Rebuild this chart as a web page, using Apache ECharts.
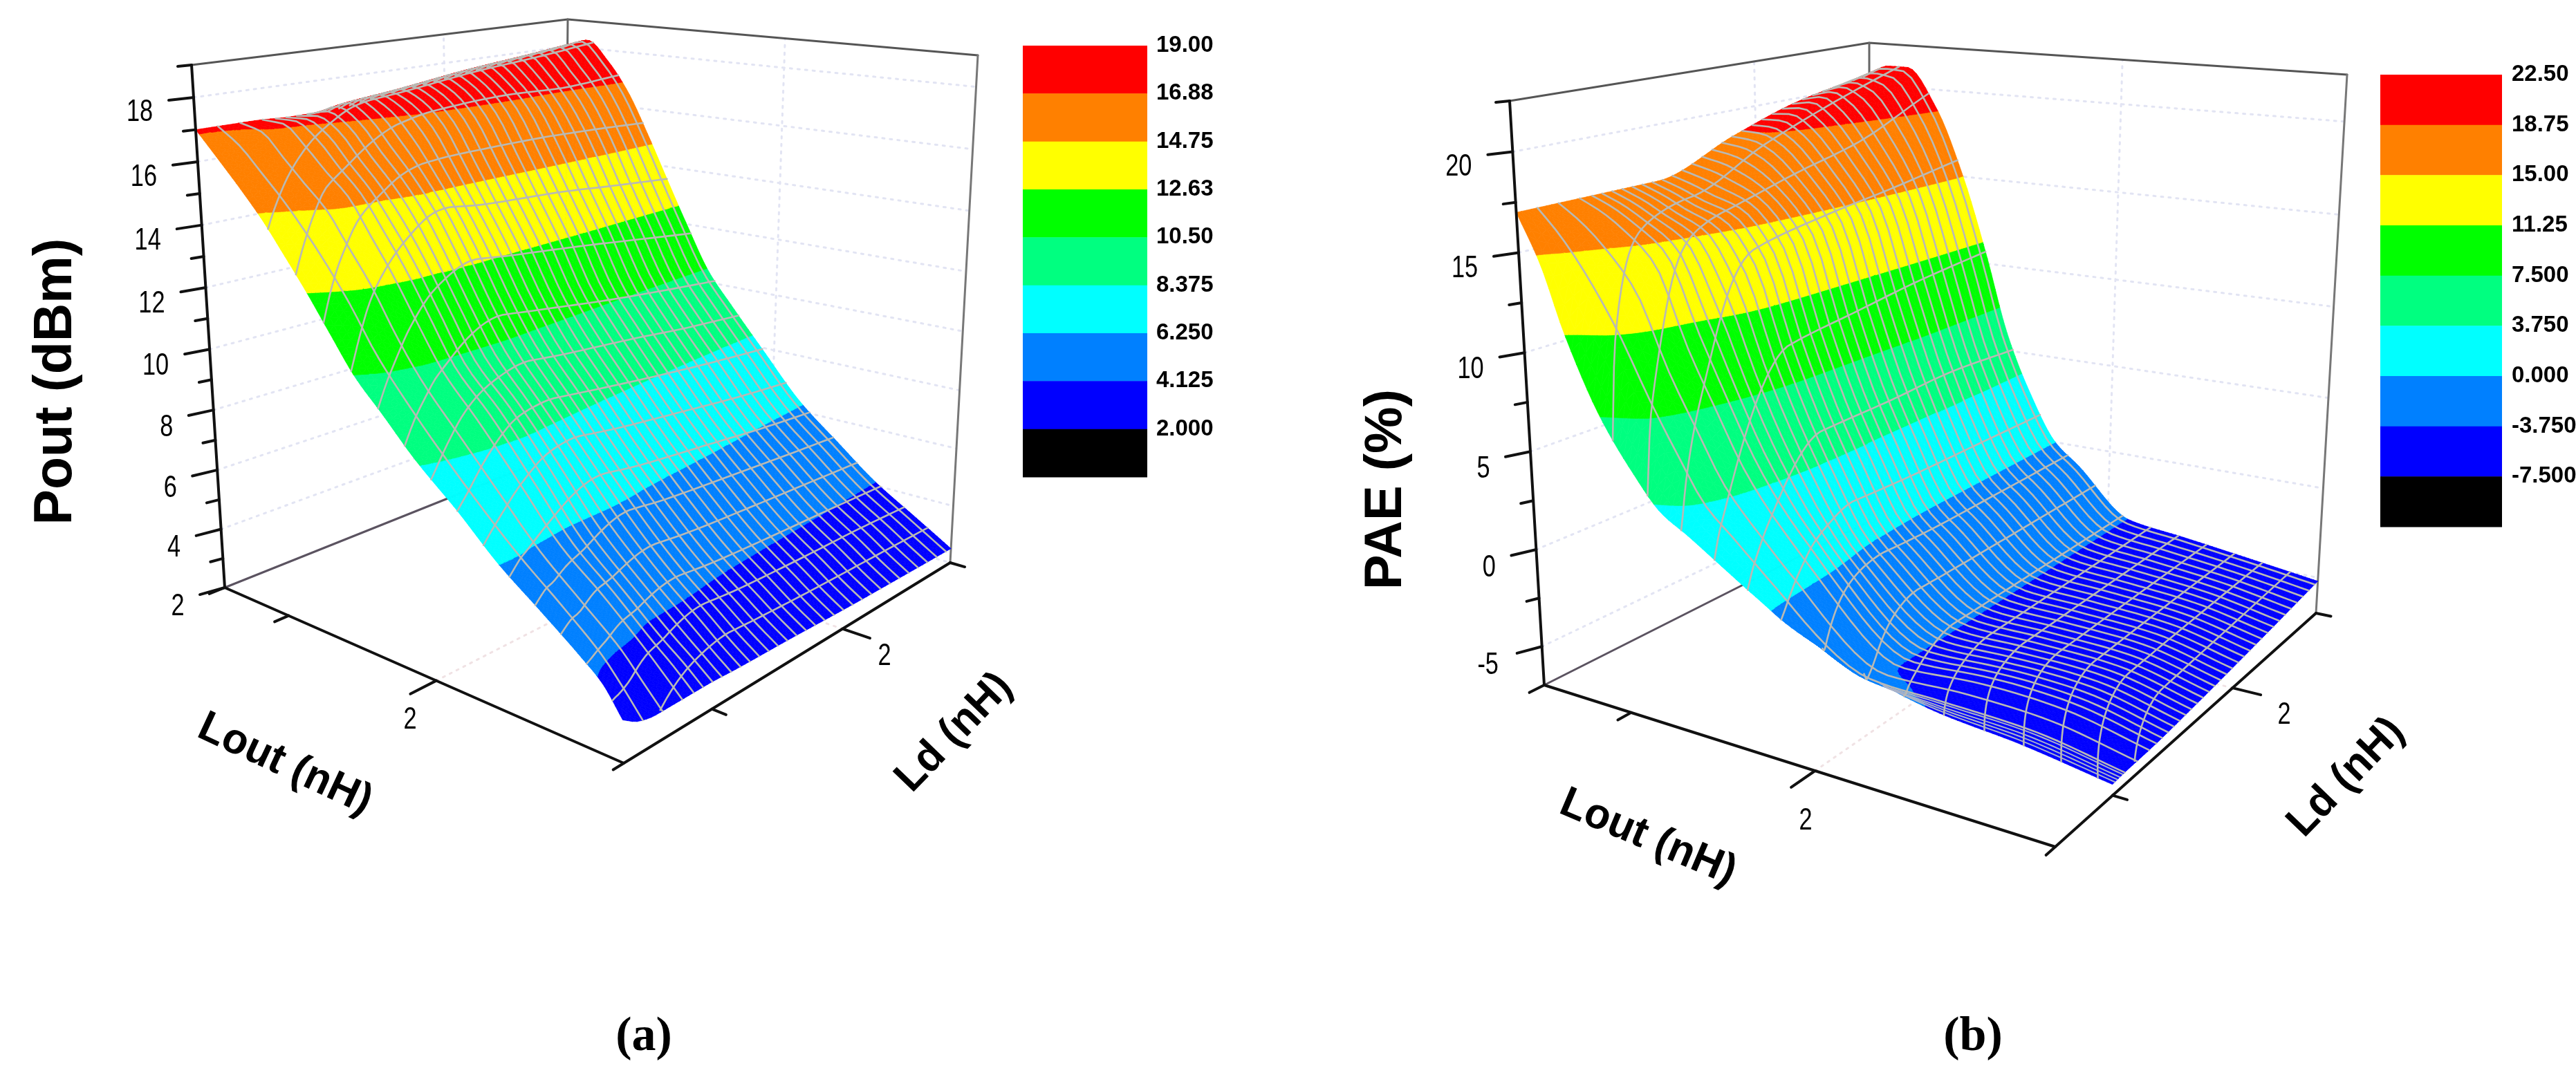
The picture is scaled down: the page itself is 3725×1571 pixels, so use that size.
<!DOCTYPE html>
<html><head><meta charset="utf-8">
<style>html,body{margin:0;padding:0;background:#fff}#c{width:3725px;height:1571px}</style>
<script src="https://cdn.jsdelivr.net/npm/echarts@6/dist/echarts.min.js"></script>
</head><body><div id="c"></div>
<script>
// ---------- DATA ----------
var poutLevels=[2,4.125,6.25,8.375,10.5,12.63,14.75,16.88,19];
var poutLabels=['19.00','16.88','14.75','12.63','10.50','8.375','6.250','4.125','2.000'];
var paeLevels=[-7.5,-3.75,0,3.75,7.5,11.25,15,18.75,22.5];
var paeLabels=['22.50','18.75','15.00','11.25','7.500','3.750','0.000','-3.750','-7.500'];
var bandColors=['#000000','#0000ff','#0080ff','#00ffff','#00ff80','#00ff00','#ffff00','#ff8000','#ff0000'];

// fractional position of the samples along each floor axis
var poutLoutPos=[0,.05,.1,.15,.2,.25,.3,.36,.42,.5,.6,.7,.8,.9,.95,1];
var poutLdPos=[0,.05,.1,.16,.25,.35,.5,.7,.85,1];
// Pout (dBm) along Lout, one array per Ld position
var pout0 =[17,16.2,15.4,14.56,13.6,12.63,11.6,10.43,9.6,8.5,7.4,6.25,5.36,4.48,4.0,3.2];
var pout1 =[17,16.44,15.7,14.95,14.1,13.2,12.2,10.9,9.9,8.7,7.4,6.25,5.3,4.3,3.65,2.9];
var pout2 =[17,16.74,16.03,15.3,14.55,13.6,12.63,11.2,10.05,8.85,7.45,6.15,5.1,4.125,3.45,2.8];
var pout3 =[17,16.95,16.3,15.6,15,13.9,12.85,11.45,10.2,9.0,7.5,6.05,5.05,4.0,3.4,2.8];
var pout4 =[16.95,17,16.6,15.8,15.05,14.1,13.05,11.6,10.2,9.1,7.5,5.9,4.8,3.75,3.3,2.8];
var pout5 =[16.95,17.3,16.88,16.05,15.25,14.3,13.1,11.55,10.2,8.95,7.4,5.9,4.7,3.7,3.2,2.75];
var pout6 =[17.2,17.5,17.2,16.5,15.3,14.1,12.9,11.3,10.0,8.7,7.1,5.7,4.5,3.55,3.1,2.7];
var pout7 =[17.5,17.85,17.4,16.6,15.3,13.95,12.63,10.9,9.75,8.375,6.8,5.5,4.35,3.45,3.0,2.6];
var pout8 =[17.75,18.05,17.4,16.5,15.25,13.75,12.35,10.65,9.5,8.15,6.55,5.35,4.25,3.4,2.95,2.55];
var pout9 =[18,18.3,17.6,16.55,15.1,13.55,12.05,10.4,9.3,7.95,6.35,5.2,4.125,3.3,2.9,2.5];
var poutTable=[pout0,pout1,pout2,pout3,pout4,pout5,pout6,pout7,pout8,pout9];

var paeLoutPos=[0,.04,.08,.14,.2,.25,.3,.35,.41,.46,.58,.7,.85,1];
var paeLdPos=[0,.05,.2,.4,.62,.8,1];
var pae0=[17,14.6,11.25,7.5,5,3.4,2.6,1.75,.75,-.05,-2.2,-3.8,-5.2,-6.5];
var pae1=[17,15.7,14.1,11.25,8,5.6,3.5,2.35,.95,-.2,-3.2,-4,-5.1,-6.45];
var pae2=[17,16.5,15.8,14.4,10.4,7.5,4.8,2.8,.95,-.5,-3.8,-4.1,-5,-6.4];
var pae3=[17,16.6,16.1,15.5,13.4,9.2,5.8,3.05,.25,-1,-3.8,-4.2,-4.9,-6.2];
var pae4=[18.6,18.5,18,16.4,14.2,9.8,5.95,3,0,-1.1,-3.8,-4.2,-4.8,-5.9];
var pae5=[19.8,20,19.3,17.2,14.6,10.3,6.2,2.95,0,-1.1,-3.8,-4.2,-4.75,-5.6];
var pae6=[20.6,21.2,21.2,19,15,10.7,6,2.8,0,-1.1,-3.8,-4.2,-4.7,-5.2];
var paeTable=[pae0,pae1,pae2,pae3,pae4,pae5,pae6];
// the PAE sheet stops short of the axis at high Lout: first Ld position per Lout sample
var paeLdStart=[0,0,0,0,0,0,0,0,0,0,.05,.1,.17,.22];
var poutLdStart=[0,0,0,0,0,0,0,0,0,0,0,0,0,0,0,0];

var poutMajor=[18,16,14,12,10,8,6,4,2];
var poutMinor=[17,15,13,11,9,7,5,3];
var paeMajor=[20,15,10,5,0,-5];
var paeMinor=[17.5,12.5,7.5,2.5,-2.5];

// ---------- LAYOUT ----------
var panelA={
  A0:[325,850],A1:[277,94],B0:[815,654],B1:[821,28],R0:[1374,814],R1:[1414,80],F0:[902,1104],F1:[880,170],
  zMin:2,zMax:19,k:1.06,levels:poutLevels,labels:poutLabels,table:poutTable,uPos:poutLoutPos,vPos:poutLdPos,vStart:poutLdStart,
  major:poutMajor,minor:poutMinor,
  lout2:.53,loutMinor:.16,ld2:.67,ldMinor:.27,
  legend:{x:1479,w:180,y:66,h:624,tx:1672},
  title:{t:'Pout (dBm)',x:82,y:552,size:77},
  loutT:{x:412,y:1106,rot:-25},ldT:{x:1380,y:1060,rot:46},
  lout2L:[593,1042],ld2L:[1279,950],tag:{t:'(a)',x:931,y:1501},tickFont:36,denseEdge:false
};
var panelB={
  A0:[2233,991],A1:[2183,146],B0:[2703,754],B1:[2703,62],R0:[3349,887],R1:[3394,108],F0:[2972,1225],F1:[2942,208],
  zMin:-7,zMax:22.5,k:1.03,levels:paeLevels,labels:paeLabels,table:paeTable,uPos:paeLoutPos,vPos:paeLdPos,vStart:paeLdStart,
  major:paeMajor,minor:paeMinor,
  lout2:.53,loutMinor:.17,ld2:.68,ldMinor:.22,
  legend:{x:3442,w:176,y:108,h:654,tx:3632},
  title:{t:'PAE (%)',x:2005,y:708,size:76},
  loutT:{x:2383,y:1212,rot:-23},ldT:{x:3393,y:1125,rot:46},
  lout2L:[2611,1188],ld2L:[3303,1035],tag:{t:'(b)',x:2853,y:1501},tickFont:36,denseEdge:true
};

// ---------- projection ----------
function lerp(a,b,t){return a+(b-a)*t;}
function proj(p,u,v,z){
  var w=(z-p.zMin)/(p.zMax-p.zMin); var f=w/(p.k-(p.k-1)*w);
  var bx=lerp(lerp(p.A0[0],p.F0[0],u),lerp(p.B0[0],p.R0[0],u),v);
  var by=lerp(lerp(p.A0[1],p.F0[1],u),lerp(p.B0[1],p.R0[1],u),v);
  var tx=lerp(lerp(p.A1[0],p.F1[0],u),lerp(p.B1[0],p.R1[0],u),v);
  var ty=lerp(lerp(p.A1[1],p.F1[1],u),lerp(p.B1[1],p.R1[1],u),v);
  return [lerp(bx,tx,f),lerp(by,ty,f)];
}
// monotone cubic through read samples, the same idea as a smoothed line
function pchip(xs,ys,x){
  var n=xs.length,i=0; if(x<=xs[0])return ys[0]; if(x>=xs[n-1])return ys[n-1];
  while(i<n-2&&x>xs[i+1])i++;
  function d(k){return (ys[k+1]-ys[k])/(xs[k+1]-xs[k]);}
  function m(k){ if(k<=0)return d(0); if(k>=n-1)return d(n-2);
    var a=d(k-1),b=d(k); if(a*b<=0)return 0; return 2*a*b/(a+b);}
  var h=xs[i+1]-xs[i],t=(x-xs[i])/h,t2=t*t,t3=t2*t;
  return (2*t3-3*t2+1)*ys[i]+(t3-2*t2+t)*h*m(i)+(-2*t3+3*t2)*ys[i+1]+(t3-t2)*h*m(i+1);
}
function sampleRow(p,u){ return p.table.map(function(c){return pchip(p.uPos,c,u);}); }
function vAt(p,u,s){ var v0=pchip(p.uPos,p.vStart,u); return v0+(1-v0)*s; }
function zAt(p,row,s){ return pchip(p.vPos,row,s); }

function clipBand(poly,lo,hi){
  function clip(pts,inside,limit){
    var out=[];
    for(var i=0;i<pts.length;i++){
      var a=pts[i],b=pts[(i+1)%pts.length],ia=inside(a[2]),ib=inside(b[2]);
      if(ia)out.push(a);
      if(ia!==ib){var t=(limit-a[2])/(b[2]-a[2]);out.push([lerp(a[0],b[0],t),lerp(a[1],b[1],t),limit]);}
    }
    return out;
  }
  var r=clip(poly,function(z){return z>=lo;},lo);
  if(r.length<3)return r;
  return clip(r,function(z){return z<=hi;},hi);
}
function line(api,pts,stroke,width,dash){
  return {type:'polyline',shape:{points:pts.map(function(q){return api.coord(q);})},
    style:{stroke:stroke,lineWidth:width,fill:null,lineDash:dash||null,lineCap:'round',lineJoin:'round'}};
}
function text(api,t,x,y,size,opt){
  opt=opt||{}; var q=api.coord([x,y]);
  return {type:'text',x:q[0],y:q[1],rotation:(opt.rot||0)*Math.PI/180,scaleX:opt.scaleX||1,
    style:{text:t,fontSize:size,fontFamily:opt.family||'"Liberation Sans",Arial,sans-serif',fontWeight:opt.weight||'normal',
      fontStyle:opt.style||'normal',fill:opt.fill||'#000',align:opt.align||'center',verticalAlign:'middle'}};
}

// ---------- walls, drawn behind the sheet ----------
function wallItem(p){return function(params,api){
  var ch=[],gc='#e2e4f3',dash=[3,8];
  p.major.forEach(function(z){
    ch.push(line(api,[proj(p,0,0,z),proj(p,0,1,z),proj(p,1,1,z)],gc,3,dash));
  });
  ch.push(line(api,[proj(p,0,p.ld2,p.zMin),proj(p,0,p.ld2,p.zMax)],gc,3,dash));
  ch.push(line(api,[proj(p,p.lout2,1,p.zMin),proj(p,p.lout2,1,p.zMax)],gc,3,dash));
  ch.push(line(api,[proj(p,p.lout2,0,p.zMin),proj(p,p.lout2,1,p.zMin)],'#f0e2e4',3,dash));
  ch.push(line(api,[proj(p,0,p.ld2,p.zMin),proj(p,1,p.ld2,p.zMin)],'#f0e2e4',3,dash));
  ch.push(line(api,[p.A1,p.B1,p.R1],'#555',3));
  ch.push(line(api,[p.B1,p.B0],'#666',3));
  ch.push(line(api,[p.R1,p.R0],'#777',3));
  ch.push(line(api,[p.A0,p.B0],'#5b5360',3));
  return {type:'group',children:ch};
};}

// ---------- contour-filled sheet ----------
function sheetItem(p){
  var NU=110,NV=70;
  return function(params,api){
    var iu=api.value(0),ch=[];
    var u0=iu/NU,u1=(iu+1)/NU,r0=sampleRow(p,u0),r1=sampleRow(p,u1);
    function vert(u,row,s){var z=zAt(p,row,s),q=proj(p,u,vAt(p,u,s),z);return [q[0],q[1],z];}
    for(var j=NV-1;j>=0;j--){
      var s0=j/NV,s1=(j+1)/NV;
      var a=vert(u0,r0,s0),b=vert(u0,r0,s1),c=vert(u1,r1,s1),d=vert(u1,r1,s0);
      var tris=[[a,b,c],[a,c,d]];
      tris.forEach(function(tri){
        var mn=Math.min(tri[0][2],tri[1][2],tri[2][2]),mx=Math.max(tri[0][2],tri[1][2],tri[2][2]);
        for(var b2=0;b2<p.levels.length;b2++){
          var lo=b2===0?-1e9:p.levels[b2-1], hi=b2===p.levels.length-1?1e9:p.levels[b2];
          if(mx<lo||mn>hi)continue;
          var poly=clipBand(tri,lo,hi);
          if(poly.length<3)continue;
          var col=bandColors[b2];
          ch.push({type:'polygon',shape:{points:poly.map(function(q){return api.coord(q);})},
            style:{fill:col,stroke:col,lineWidth:.7}});
        }
      });
    }
    return {type:'group',children:ch};
  };
}

// ---------- mesh ----------
function meshItem(p){return function(params,api){
  var ch=[],mc='#b9b9b4',i,j,pts;
  var cols=[.06,.12,.18];
  for(i=.215;i<1;i+=.0285)cols.push(i);
  cols.forEach(function(s){
    pts=[];
    for(j=0;j<=60;j++){var u=j/60,z=zAt(p,sampleRow(p,u),s);pts.push(proj(p,u,vAt(p,u,s),z));}
    ch.push(line(api,pts,mc,2.6));
  });
  if(p.denseEdge){
    [.012,.024,.036,.05].forEach(function(s){
      pts=[];
      for(j=0;j<=30;j++){var u=.62+.38*j/30,z=zAt(p,sampleRow(p,u),s);pts.push(proj(p,u,vAt(p,u,s),z));}
      ch.push(line(api,pts,'#a9b2c8',2));
    });
  }
  for(i=1;i<16;i++){
    var ur=i/16;pts=[];
    for(j=0;j<=60;j++){
      var s=j/60,w=Math.max(0,1-s/.4),uu=ur+.1*Math.pow(w,1.5);
      if(uu>1)continue;
      var z2=zAt(p,sampleRow(p,uu),s);pts.push(proj(p,uu,vAt(p,uu,s),z2));
    }
    if(pts.length>1)ch.push(line(api,pts,mc,2.6));
  }
  return {type:'group',children:ch};
};}

// ---------- front axes, ticks, text ----------
function axisItem(p){return function(params,api){
  var ch=[];
  ch.push(line(api,[p.A0,p.A1],'#111',4));
  ch.push(line(api,[p.A0,p.F0,p.R0],'#111',4));
  var dl=p.zMax-p.zMin;
  function vt(z,len,lab){
    var q=proj(p,0,0,z),f=(z-p.zMin)/dl,sl=.28-.18*f;
    ch.push(line(api,[q,[q[0]-len,q[1]+len*sl]],'#111',4));
    if(lab)ch.push(text(api,lab,q[0]-len-32-(lab.length>1?10:0),q[1]+len*sl+18,p.tickFont+8,{scaleX:.78}));
  }
  p.major.forEach(function(z){vt(z,36,String(z));});
  p.minor.forEach(function(z){vt(z,18,null);});
  vt(p.zMax,20,null);
  function tick(u,v,du,dv,scale){
    var q=proj(p,u,v,p.zMin),r=proj(p,u+du,v+dv,p.zMin);
    var dx=r[0]-q[0],dy=r[1]-q[1],l=Math.sqrt(dx*dx+dy*dy);
    ch.push(line(api,[q,[q[0]+dx/l*scale,q[1]+dy/l*scale]],'#111',4));
  }
  tick(p.lout2,0,0,-.1,42);tick(p.loutMinor,0,0,-.1,22);tick(1,0,0,-.1,18);
  tick(0,0,0,-.1,24);
  tick(1,p.ld2,.1,0,42);tick(1,p.ldMinor,.1,0,22);tick(1,1,.1,0,22);
  ch.push(text(api,'2',p.lout2L[0],p.lout2L[1],p.tickFont+8,{scaleX:.78}));
  ch.push(text(api,'2',p.ld2L[0],p.ld2L[1],p.tickFont+8,{scaleX:.78}));
  ch.push(text(api,p.title.t,p.title.x,p.title.y,p.title.size,{rot:90,weight:'bold'}));
  ch.push(text(api,'Lout (nH)',p.loutT.x,p.loutT.y,62,{rot:p.loutT.rot,weight:'bold',scaleX:.98}));
  ch.push(text(api,'Ld (nH)',p.ldT.x,p.ldT.y,62,{rot:p.ldT.rot,weight:'bold',scaleX:.98}));
  ch.push(text(api,p.tag.t,p.tag.x,p.tag.y,70,{weight:'bold',family:'"Liberation Serif",serif'}));
  return {type:'group',children:ch};
};}

// ---------- colour key ----------
function keyItem(p){return function(params,api){
  var i=api.value(0),L=p.legend,n=bandColors.length,h=L.h/n;
  var top=api.coord([L.x,L.y+i*h]),bot=api.coord([L.x+L.w,L.y+(i+1)*h]);
  return {type:'group',children:[
    {type:'rect',shape:{x:top[0],y:top[1],width:bot[0]-top[0],height:bot[1]-top[1]+.5},style:{fill:bandColors[n-1-i]}},
    text(api,p.labels[i],L.tx,L.y+i*h,33,{weight:'bold',align:'left'})
  ]};
};}

function range(n){var a=[];for(var i=0;i<n;i++)a.push([i]);return a;}
function custom(render,data){return {type:'custom',coordinateSystem:'cartesian2d',silent:true,animation:false,renderItem:render,data:data,encode:{x:0,y:0},clip:false};}
var series=[];
[panelA,panelB].forEach(function(p){
  series.push(custom(wallItem(p),[[0]]));
  series.push(custom(sheetItem(p),range(110)));
  series.push(custom(meshItem(p),[[0]]));
  series.push(custom(axisItem(p),[[0]]));
  series.push(custom(keyItem(p),range(bandColors.length)));
});
var chart=echarts.init(document.getElementById('c'),null,{renderer:'canvas'});
chart.setOption({
  animation:false,backgroundColor:'#fff',
  grid:{left:0,right:0,top:0,bottom:0},
  xAxis:{type:'value',min:0,max:3725,show:false},
  yAxis:{type:'value',min:0,max:1571,inverse:true,show:false},
  series:series
});
</script></body></html>
